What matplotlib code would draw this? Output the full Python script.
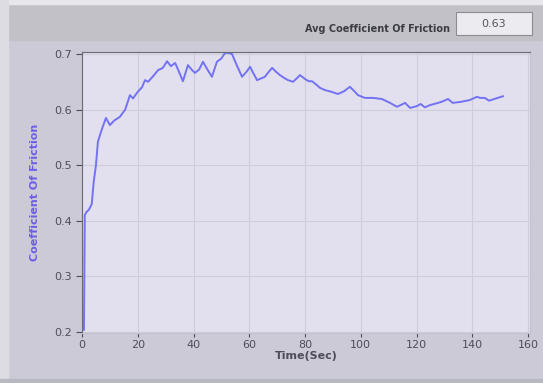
import matplotlib
matplotlib.use("Agg")
import matplotlib.pyplot as plt
from matplotlib.patches import Rectangle

# tempo (s) e coefficiente d'attrito
time_s = [0.7, 1.0, 1.5, 2.5, 3.5, 4.2, 5.0, 5.7, 6.5, 7.5,
          8.6, 10.0, 11.5, 13.6, 15.5, 17.2, 18.3, 20.0, 21.5, 22.6,
          23.7, 25.5, 27.3, 29.0, 30.5, 31.9, 33.4, 34.8, 36.2, 38.0,
          39.3, 40.5, 42.0, 43.4, 45.0, 46.6, 48.4, 50.0, 51.3, 52.5,
          53.8, 55.5, 57.4, 59.0, 60.3, 61.5, 62.8, 64.2, 65.6, 67.0,
          68.2, 69.6, 71.0, 72.5, 73.9, 75.7, 77.0, 78.2, 80.0, 81.3,
          82.5, 84.0, 85.4, 87.2, 89.5, 91.8, 94.0, 96.1, 97.5, 99.0,
          101.5, 104.5, 107.6, 110.5, 113.0, 115.9, 117.7, 120.0, 121.5, 123.0,
          124.8, 127.0, 129.0, 131.3, 133.0, 136.0, 139.0, 141.7, 142.8, 144.5,
          146.0, 148.5, 151.0]
cof = [0.204, 0.41, 0.415, 0.42, 0.43, 0.47, 0.50, 0.542, 0.555, 0.57,
       0.585, 0.572, 0.58, 0.587, 0.60, 0.626, 0.62, 0.632, 0.64, 0.653,
       0.65, 0.66, 0.671, 0.675, 0.687, 0.678, 0.684, 0.668, 0.651, 0.68,
       0.672, 0.666, 0.672, 0.686, 0.672, 0.659, 0.686, 0.692, 0.702, 0.702,
       0.70, 0.68, 0.659, 0.668, 0.677, 0.665, 0.653, 0.656, 0.659, 0.668,
       0.675, 0.668, 0.662, 0.657, 0.653, 0.65, 0.656, 0.662, 0.655, 0.651,
       0.651, 0.645, 0.639, 0.635, 0.632, 0.628, 0.633, 0.641, 0.634, 0.626,
       0.621, 0.621, 0.619, 0.612, 0.605, 0.612, 0.603, 0.606, 0.61, 0.604,
       0.608, 0.611, 0.614, 0.619, 0.612, 0.614, 0.617, 0.623, 0.621, 0.621,
       0.616, 0.62, 0.624]
xticks = [0, 20, 40, 60, 80, 100, 120, 140, 160]
yticks = [0.2, 0.3, 0.4, 0.5, 0.6, 0.7]
avg_cof = "0.63"

fig = plt.figure(figsize=(5.43, 3.83), dpi=100, facecolor="#cbcad6")
# banda superiore grigia + strisce chiare ai bordi
fig.patches.append(Rectangle((0, 1 - 40 / 383), 1, 36 / 383, transform=fig.transFigure,
                             color="#c2c1c8", zorder=0))
fig.patches.append(Rectangle((0, 1 - 4 / 383), 1, 4 / 383, transform=fig.transFigure,
                             color="#e8e8ec", zorder=0))
fig.patches.append(Rectangle((0, 0), 8 / 543, 1, transform=fig.transFigure,
                             color="#dcdce2", zorder=0))
fig.patches.append(Rectangle((0, 0), 1, 4 / 383, transform=fig.transFigure,
                             color="#b8b8c0", zorder=0))

fig.text(450 / 543, 1 - 29 / 383, "Avg Coefficient Of Friction", ha="right", va="center",
         fontsize=7, fontweight="bold", color="#3c3c44")
fig.patches.append(Rectangle((456 / 543, 1 - 35 / 383), 76 / 543, 23 / 383,
                             transform=fig.transFigure, facecolor="#ececf0",
                             edgecolor="#8c8c94", lw=0.8, zorder=1))
fig.text(494 / 543, 1 - 24 / 383, avg_cof, ha="center", va="center",
         fontsize=8, color="#55555e")

ax = fig.add_axes([82 / 543, 1 - 333 / 383, 448 / 543, 281 / 383])
ax.set_facecolor("#e2e0ee")
ax.plot(time_s, cof, color="#7272f2", lw=1.4)
ax.set_xlim(0, 160.7)
ax.set_ylim(0.198, 0.7036)
ax.set_xticks(xticks)
ax.set_yticks(yticks)
ax.set_xticklabels([str(v) for v in xticks])
ax.set_yticklabels([f"{v:.1f}" for v in yticks])
ax.grid(True, color="#cfcddc", lw=0.8)
ax.tick_params(axis="both", labelsize=8, colors="#4e4e58", length=4, width=0.8)
ax.tick_params(axis="x", length=3, pad=2)
for s in ["left", "top"]:
    ax.spines[s].set_color("#6a6a72")
for s in ["right", "bottom"]:
    ax.spines[s].set_color("#c4c2d2")
ax.set_xlabel("Time(Sec)", fontsize=8, fontweight="bold", color="#4e4e58", labelpad=1)
ax.set_ylabel("Coefficient Of Friction", fontsize=8, fontweight="bold", color="#6e5ee6",
              labelpad=10)

fig.savefig("out.png", dpi=100, facecolor=fig.get_facecolor())
